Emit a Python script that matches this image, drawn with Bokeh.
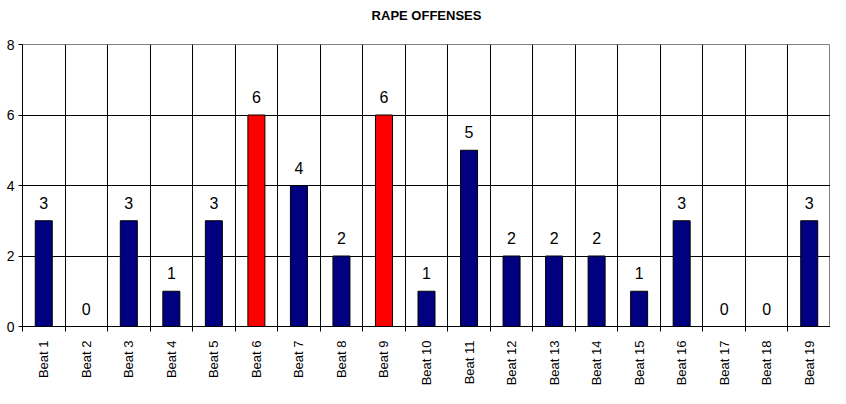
from bokeh.plotting import figure
from bokeh.models import FixedTicker, ColumnDataSource, Range1d, Title
from bokeh.core.properties import value
from bokeh.embed import file_html
from bokeh.resources import INLINE

beats = ["Beat 1", "Beat 2", "Beat 3", "Beat 4", "Beat 5", "Beat 6", "Beat 7", "Beat 8", "Beat 9", "Beat 10",
         "Beat 11", "Beat 12", "Beat 13", "Beat 14", "Beat 15", "Beat 16", "Beat 17", "Beat 18", "Beat 19"]
offenses = [3, 0, 3, 1, 3, 6, 4, 2, 6, 1, 5, 2, 2, 2, 1, 3, 0, 0, 3]
highlight = ["Beat 6", "Beat 9"]
y_ticks = [0, 2, 4, 6, 8]

n = len(beats)
xs = [i + 0.5 for i in range(n)]
colors = ["#FF0000" if b in highlight else "#000080" for b in beats]
src = ColumnDataSource(dict(x=xs, y=offenses, c=colors, lbl=[str(v) for v in offenses]))

p = figure(width=830, height=388, output_backend="svg", toolbar_location=None,
           x_range=Range1d(0, n), y_range=Range1d(0, 8),
           min_border_left=22, min_border_right=0, min_border_top=0, min_border_bottom=0)

p.title.text = "RAPE OFFENSES"
p.title.align = "center"
p.title.text_font = "Liberation Sans"
p.title.text_font_size = "13px"
p.title.text_font_style = "bold"
p.title.text_color = "black"

# small spacer title between main title and the plot frame
p.add_layout(Title(text=" ", text_font_size="4px"), "above")

p.vbar(x="x", top="y", width=0.4, bottom=0, source=src, fill_color="c", line_color="black", line_width=1)
p.text(x="x", y="y", text="lbl", source=src, text_align="center", text_baseline="bottom",
       y_offset=-12, text_font=value("Liberation Sans"), text_font_size="16px", text_color="black")

# x axis: labels at centers, ticks at category boundaries
p.xaxis.ticker = FixedTicker(ticks=xs, minor_ticks=list(range(n + 1)))
p.xaxis.major_label_overrides = {x: b for x, b in zip(xs, beats)}
p.xaxis.major_label_orientation = 3.14159265 / 2
p.xaxis.major_tick_out = 0
p.xaxis.major_tick_in = 0
p.xaxis.minor_tick_out = 5
p.xaxis.minor_tick_in = 0
p.xaxis.minor_tick_line_color = "black"
p.xaxis.axis_line_color = "black"
p.xaxis.major_label_text_font = "Liberation Sans"
p.xaxis.major_label_text_font_size = "13px"
p.xaxis.major_label_text_color = "black"
p.xaxis.major_label_standoff = 9

p.yaxis.ticker = FixedTicker(ticks=y_ticks, minor_ticks=[])
p.yaxis.major_tick_out = 4
p.yaxis.major_tick_in = 0
p.yaxis.major_tick_line_color = "black"
p.yaxis.axis_line_color = "black"
p.yaxis.major_label_text_font = "Liberation Sans"
p.yaxis.major_label_text_font_size = "14px"
p.yaxis.major_label_text_color = "black"
p.yaxis.major_label_standoff = 4

p.xgrid.ticker = FixedTicker(ticks=list(range(n + 1)))
p.xgrid.grid_line_color = "black"
p.xgrid.grid_line_width = 1
p.ygrid.ticker = FixedTicker(ticks=y_ticks)
p.ygrid.grid_line_color = "black"
p.ygrid.grid_line_width = 1
p.outline_line_color = "#808080"
p.background_fill_color = "white"
p.border_fill_color = "white"

open("out.html", "w").write(file_html(p, INLINE))
